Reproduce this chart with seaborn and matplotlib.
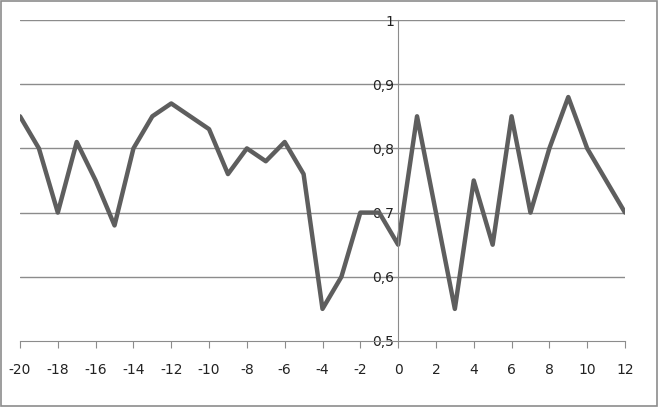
import pandas as pd
import seaborn as sns
import matplotlib.pyplot as plt
from matplotlib.patches import Rectangle
from matplotlib.ticker import FuncFormatter

x_vals = list(range(-20, 13))
y_vals = [0.85, 0.80, 0.70, 0.81, 0.75, 0.68, 0.80, 0.85, 0.87, 0.85,
          0.83, 0.76, 0.80, 0.78, 0.81, 0.76, 0.55, 0.60, 0.70, 0.70,
          0.65, 0.85, 0.70, 0.55, 0.75, 0.65, 0.85, 0.70, 0.80, 0.88,
          0.80, 0.75, 0.70]
x_ticks = list(range(-20, 13, 2))
y_ticks = [0.5, 0.6, 0.7, 0.8, 0.9, 1.0]

df = pd.DataFrame({'x': x_vals, 'y': y_vals})

sns.set_style("white")
plt.rcParams['font.family'] = ['DejaVu Sans']
plt.rcParams['axes.unicode_minus'] = False

fig = plt.figure(figsize=(6.6, 4.07), dpi=100)
ax = fig.add_axes([20 / 660, 1 - 341 / 407, 605 / 660, 321 / 407])

sns.lineplot(data=df, x='x', y='y', ax=ax, color='#5e5e5e', linewidth=3.2)

ax.set_xlim(-20, 12)
ax.set_ylim(0.5, 1.0)
ax.set_xticks(x_ticks)
ax.set_yticks(y_ticks)
ax.set_xlabel('')
ax.set_ylabel('')

# horizontal gridlines
for v in y_ticks[1:]:
    ax.axhline(v, color='#8c8c8c', linewidth=1, zorder=0)

# y axis through x=0
ax.spines['left'].set_position(('data', 0))
ax.spines['left'].set_color('#8c8c8c')
ax.spines['bottom'].set_color('#8c8c8c')
ax.spines['top'].set_visible(False)
ax.spines['right'].set_visible(False)
ax.yaxis.set_major_formatter(FuncFormatter(lambda v, p: f"{v:g}".replace('.', ',')))
ax.tick_params(axis='y', length=0, pad=3, labelsize=10, colors='#222222')
ax.tick_params(axis='x', direction='out', length=5, color='#8c8c8c',
               labelsize=10, pad=11, labelcolor='#222222')
ax.tick_params(axis='x', bottom=True)

fig.patches.append(Rectangle((0.002, 0.003), 0.994, 0.994, transform=fig.transFigure,
                             fill=False, edgecolor='#8c8c8c', linewidth=1.2))

fig.savefig("out.png", dpi=100)
plt.close()
